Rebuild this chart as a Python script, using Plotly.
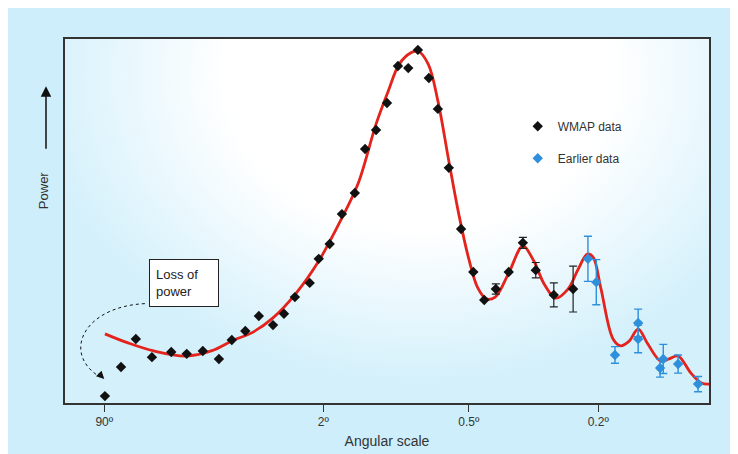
import plotly.graph_objects as go

# Angular-scale axis (arbitrary position units 0-100) and power (arbitrary 0-100)
tick_pos = [6.1, 40.1, 62.7, 82.8]
tick_text = ["90\u00ba", "2\u00ba", "0.5\u00ba", "0.2\u00ba"]

wmap_x = [6.2, 8.7, 11.0, 13.5, 16.5, 18.9, 21.4, 23.9, 25.9, 28.0, 30.1, 32.3, 34.0,
          35.7, 38.0, 39.4, 41.1, 43.0, 45.0, 46.6, 48.3, 50.0, 51.7, 53.3, 54.8, 56.5,
          57.9, 59.6, 61.5, 63.4, 65.1, 66.9, 68.9, 71.1, 73.1, 75.9, 78.9]
wmap_y = [1.9, 9.9, 17.6, 12.6, 14.0, 13.5, 14.3, 12.1, 17.3, 19.8, 23.9, 21.4, 24.5,
          29.1, 33.0, 39.6, 43.7, 51.9, 57.7, 69.8, 75.0, 82.4, 92.6, 92.0, 97.0, 89.3,
          80.8, 64.6, 47.8, 36.0, 28.3, 31.3, 36.0, 44.0, 36.5, 29.7, 31.3]
wmap_err = [0, 0, 0, 0, 0, 0, 0, 0, 0, 0, 0, 0, 0,
            0, 0, 0, 0, 0, 0, 0, 0, 0, 0, 0, 0, 0,
            0, 0, 0, 0, 0, 1.4, 0, 1.5, 2.1, 3.3, 6.3]

early_x = [81.2, 82.5, 85.4, 89.0, 89.0, 92.4, 92.9, 95.2, 98.3]
early_y = [39.6, 33.2, 13.2, 22.0, 17.6, 9.6, 12.1, 10.7, 5.2]
early_err = [6.2, 6.2, 2.3, 3.8, 3.8, 2.5, 4.0, 2.5, 2.1]

model_x = [6.2, 9.8, 13.8, 18.8, 22.7, 26.2, 28.9, 32.3, 35.9, 39.4, 42.9, 45.5, 48.3,
           50.2, 51.9, 53.7, 54.8, 56.4, 57.9, 59.6, 61.2, 62.7, 64.1, 65.4, 66.8, 68.9,
           71.1, 72.8, 74.4, 76.2, 78.1, 79.7, 81.1, 82.0, 83.2, 85.1, 86.3, 87.6, 89.0,
           90.5, 92.5, 93.8, 95.2, 97.2, 98.8, 100.0]
model_y = [19.0, 16.5, 14.3, 12.9, 14.3, 17.3, 19.2, 23.4, 30.2, 39.0, 50.5, 60.2, 76.6,
           85.7, 93.1, 96.2, 96.7, 93.1, 83.0, 66.5, 51.4, 39.6, 31.6, 28.6, 29.1, 35.7,
           43.1, 39.0, 32.7, 28.8, 31.3, 36.8, 40.9, 40.1, 31.6, 17.6, 15.7, 17.0, 20.3,
           16.2, 11.5, 12.1, 12.9, 8.2, 5.5, 5.2]

FONT = "Liberation Sans, Arial, Helvetica, sans-serif"
BLUE_BG = "#cdeefa"

fig = go.Figure()

# background gradient of the plotting area
fig.add_trace(go.Scatter(
    x=[-5, 115, 115, -5, -5], y=[5, 5, 175, 175, 5], mode="lines",
    fill="toself", line=dict(width=0),
    fillgradient=dict(type="radial",
                      colorscale=[[0, "#ffffff"], [0.5, "#ffffff"], [1, "#d3f0fb"]]),
    hoverinfo="skip", showlegend=False))

fig.add_trace(go.Scatter(
    x=model_x, y=model_y, mode="lines", line=dict(color="#e3231c", width=2.8, shape="spline",
                                                   smoothing=1.0),
    showlegend=False, hoverinfo="skip"))

fig.add_trace(go.Scatter(
    x=wmap_x, y=wmap_y, mode="markers", name="WMAP data", legendgroup="a",
    marker=dict(symbol="diamond", size=8, color="#111111"),
    error_y=dict(type="data", array=wmap_err, color="#222222", thickness=1.2, width=4)))

fig.add_trace(go.Scatter(
    x=early_x, y=early_y, mode="markers", name="Earlier data", legendgroup="b",
    marker=dict(symbol="diamond", size=8, color="#2e8fdc"),
    error_y=dict(type="data", array=early_err, color="#2e8fdc", thickness=1.4, width=4)))

# curved "loss of power" arrow
fig.add_shape(type="path", xref="x", yref="y",
              path="M 12.4,27.3 C 3,26.5 -0.5,14 5.2,7.4",
              line=dict(color="#111111", width=1, dash="dot"))
fig.add_annotation(x=6.1, y=6.6, ax=-7, ay=-7, xref="x", yref="y", text="",
                   showarrow=True, arrowhead=2, arrowsize=1.3, arrowwidth=1.2,
                   arrowcolor="#111111")
fig.add_annotation(x=18.4, y=33.0, xref="x", yref="y", text="Loss of<br>power",
                   showarrow=False, align="left", bgcolor="white",
                   width=56, height=34, borderpad=6,
                   bordercolor="#222222", borderwidth=1,
                   font=dict(family=FONT, size=13, color="#222222"))

# Power label + arrow
fig.add_annotation(x=-0.0295, y=0.87, xref="paper", yref="paper",
                   ax=0, ay=64, text="", showarrow=True, arrowhead=2, arrowsize=1.4,
                   arrowwidth=1.5, arrowcolor="#111111")
fig.add_annotation(x=-0.034, y=0.585, xref="paper", yref="paper", text="Power",
                   textangle=-90, showarrow=False, xanchor="center", yanchor="middle",
                   font=dict(family=FONT, size=13, color="#333333"))

fig.update_xaxes(range=[0, 100], showgrid=False, zeroline=False, showline=True,
                 linecolor="#333333", linewidth=1.5, mirror=True,
                 tickmode="array", tickvals=tick_pos, ticktext=tick_text,
                 ticks="outside", ticklen=7, tickcolor="#333333",
                 tickfont=dict(family=FONT, size=12, color="#333333"),
                 title=dict(text="Angular scale", standoff=8,
                            font=dict(family=FONT, size=14, color="#333333")))
fig.update_yaxes(range=[0, 100], showgrid=False, zeroline=False, showline=True,
                 linecolor="#333333", linewidth=1.5, mirror=True,
                 showticklabels=False, ticks="")

fig.update_layout(
    width=738, height=454,
    margin=dict(l=57, r=37, t=31, b=59),
    paper_bgcolor=BLUE_BG, plot_bgcolor="#d3f0fb",
    font=dict(family=FONT, color="#333333"),
    legend=dict(x=0.703, y=0.80, xanchor="left", yanchor="top",
                bgcolor="rgba(0,0,0,0)", tracegroupgap=13,
                font=dict(family=FONT, size=12, color="#333333")),
    showlegend=True,
)

fig.write_html("out.html")
